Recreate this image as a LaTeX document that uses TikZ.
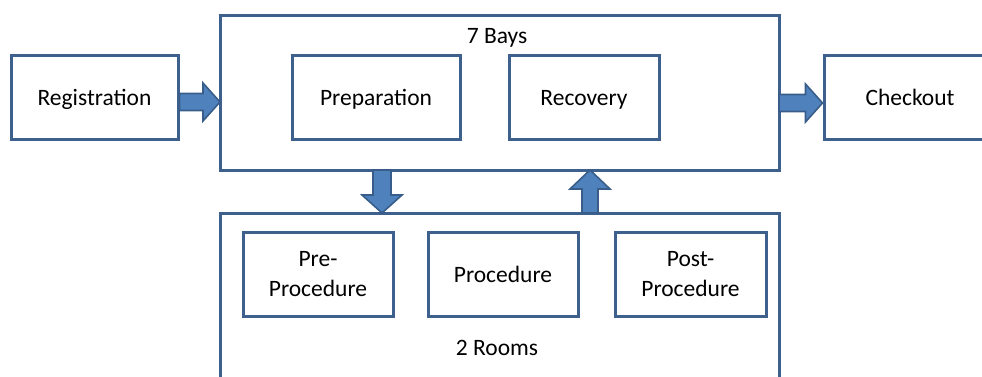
\documentclass[tikz,border=0pt]{standalone}
\usepackage{fontspec}
\setmainfont{Carlito}
\usetikzlibrary{calc}
\definecolor{boxline}{RGB}{62,96,140}
\definecolor{arrfill}{RGB}{79,129,189}
\definecolor{arrline}{RGB}{56,93,138}
\tikzset{
  procbox/.style={draw=boxline, line width=3pt, fill=white,
    font=\fontsize{23.5}{30}\selectfont, inner sep=0pt, minimum height=84pt},
  oneline/.style={text height=16pt, text depth=0pt},
  twoline/.style={align=center},
  blockarr/.style={draw=arrline, line width=1.6pt, fill=arrfill, line join=miter},
  lbl/.style={font=\fontsize{23.5}{30}\selectfont, inner sep=0pt, text height=16pt, text depth=0pt}
}
\begin{document}
\begin{tikzpicture}[x=1pt,y=1pt]
\useasboundingbox (0,0) rectangle (982,376);
\clip (0,0) rectangle (982,376);
% outer containers
\draw[procbox] (220,361) rectangle (779,206);
\path (220,361) coordinate (baysNW) (779,206) coordinate (baysSE);
\node[lbl] (bayslbl) at (497,341) {7 Bays};
\draw[procbox] (220,163) rectangle (779,-30);
\path (220,163) coordinate (roomsNW) (779,-30) coordinate (roomsSE);
\node[lbl] (roomslbl) at (497,29) {2 Rooms};
% boxes
\node[procbox, oneline, minimum width=167pt] (reg) at (94.5,279) {Registration};
\node[procbox, oneline, minimum width=168pt] (prep) at (376,279) {Preparation};
\node[procbox, oneline, minimum width=150pt] (rec) at (584,279) {Recovery};
\node[procbox, oneline, minimum width=172pt] (chk) at (910,279) {Checkout};
\node[procbox, twoline, minimum width=150pt] (pre) at (318,102) {Pre-\\Procedure};
\node[procbox, oneline, minimum width=150pt] (proc) at (503,102) {Procedure};
\node[procbox, twoline, minimum width=151pt] (post) at (690.5,102) {Post-\\Procedure};
% block arrows
\coordinate (a1s) at ([yshift=-5pt]reg.east);
\draw[blockarr] let \p1=(a1s), \p2=(baysNW) in
  (\x1,\y1+8.5) -- (\x2-17,\y1+8.5) -- (\x2-17,\y1+19) -- (\x2,\y1)
  -- (\x2-17,\y1-19) -- (\x2-17,\y1-8.5) -- (\x1,\y1-8.5) -- cycle;
\coordinate (a2e) at ([yshift=-6pt]chk.west);
\draw[blockarr] let \p1=(baysSE), \p2=(a2e) in
  (\x1,\y2+8.5) -- (\x2-17,\y2+8.5) -- (\x2-17,\y2+19) -- (\x2,\y2)
  -- (\x2-17,\y2-19) -- (\x2-17,\y2-8.5) -- (\x1,\y2-8.5) -- cycle;
\coordinate (a3) at (382,0);
\draw[blockarr] let \p1=(a3), \p2=(baysSE), \p3=(roomsNW) in
  (\x1-9,\y2) -- (\x1+9,\y2) -- (\x1+9,\y3+18) -- (\x1+20,\y3+18) -- (\x1,\y3)
  -- (\x1-20,\y3+18) -- (\x1-9,\y3+18) -- cycle;
\coordinate (a4) at (590,0);
\draw[blockarr] let \p1=(a4), \p2=(baysSE), \p3=(roomsNW) in
  (\x1-8,\y3) -- (\x1+8,\y3) -- (\x1+8,\y2-19) -- (\x1+20,\y2-19) -- (\x1,\y2)
  -- (\x1-20,\y2-19) -- (\x1-8,\y2-19) -- cycle;
\end{tikzpicture}
\end{document}
